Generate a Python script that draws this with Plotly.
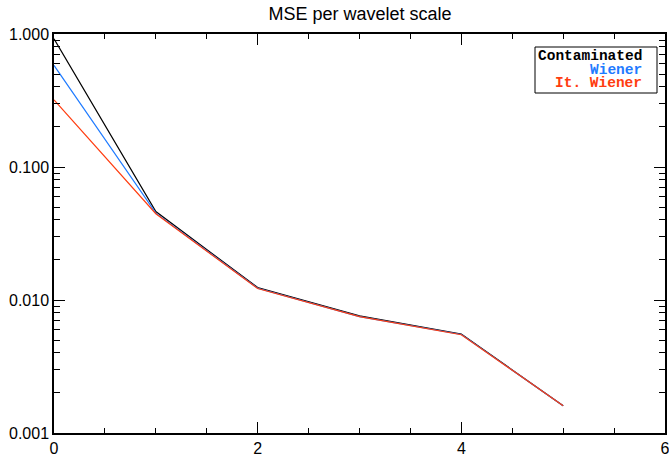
import plotly.graph_objects as go

scales = [0, 1, 2, 3, 4, 5]
mse_contaminated = [0.92, 0.0462, 0.0124, 0.0076, 0.00555, 0.0016]
mse_wiener = [0.58, 0.0450, 0.01225, 0.0075, 0.00550, 0.0016]
mse_it_wiener = [0.32, 0.0445, 0.0122, 0.0075, 0.00548, 0.0016]

y_tickvals = [0.001, 0.01, 0.1, 1.0]
y_ticktext = ["0.001", "0.010", "0.100", "1.000"]
x_tickvals = [0, 2, 4, 6]
legend_labels = ["Contaminated", "Wiener", "It. Wiener"]

BLACK = "#000000"
BLUE = "#1f7bff"
RED = "#ff3d10"
colors = [BLACK, BLUE, RED]

fig = go.Figure()
for ys, c, name in zip([mse_contaminated, mse_wiener, mse_it_wiener], colors, legend_labels):
    fig.add_trace(go.Scatter(x=scales, y=ys, mode="lines", name=name,
                             line=dict(color=c, width=1.2)))

y_minor = [m * 10.0 ** e for e in (-3, -2, -1) for m in range(2, 10)]

W, H = 669, 458
L, R, T, B = 54, 4, 34, 25
pw, ph = W - L - R, H - T - B

def px(x):
    return (x - L) / pw

def py(y):
    return (H - B - y) / ph

fig.update_layout(
    width=W, height=H,
    margin=dict(l=L, r=R, t=T, b=B, autoexpand=False),
    paper_bgcolor="white", plot_bgcolor="white",
    showlegend=False,
    title=dict(text="MSE per wavelet scale", x=360 / W, xanchor="center",
               y=1 - 14 / H, yanchor="middle",
               font=dict(family="Liberation Sans, Arial", size=18, color="black")),
    font=dict(family="Liberation Sans, Arial", size=16, color="black"),
    xaxis=dict(range=[0, 6], tickvals=x_tickvals, ticks="inside", ticklen=11,
               tickwidth=1, tickcolor="black", showline=True, linecolor="black",
               linewidth=1.5, mirror="ticks", showgrid=False, zeroline=False,
               automargin=False, ticklabeloverflow="allow",
               minor=dict(tickvals=[0.5, 1, 1.5, 2.5, 3, 3.5, 4.5, 5, 5.5],
                          ticks="inside", ticklen=5, tickcolor="black", showgrid=False),
               tickfont=dict(size=16)),
    yaxis=dict(type="log", range=[-3, 0], tickvals=y_tickvals, ticktext=y_ticktext,
               ticks="inside", ticklen=11, tickwidth=1, tickcolor="black",
               showline=True, linecolor="black", linewidth=1.5, mirror="ticks",
               showgrid=False, zeroline=False, automargin=False,
               minor=dict(tickvals=y_minor, ticks="inside", ticklen=6,
                          tickcolor="black", showgrid=False),
               tickfont=dict(size=16)),
)

# legend box
fig.add_shape(type="rect", xref="paper", yref="paper",
              x0=px(535), x1=px(657), y0=py(93), y1=py(47),
              line=dict(color="black", width=1), fillcolor="white")
for lab, c, yc in zip(legend_labels, colors, [56, 70, 83]):
    fig.add_annotation(
        xref="paper", yref="paper", x=px(644), y=py(yc), xanchor="right",
        yanchor="middle", showarrow=False, text=f"<b>{lab}</b>",
        font=dict(family="Liberation Mono, Courier New, monospace", size=14.5, color=c),
    )

fig.write_html("out.html", config={"displayModeBar": False},
               post_script="document.body.style.margin='0';document.body.style.overflow='hidden';")
